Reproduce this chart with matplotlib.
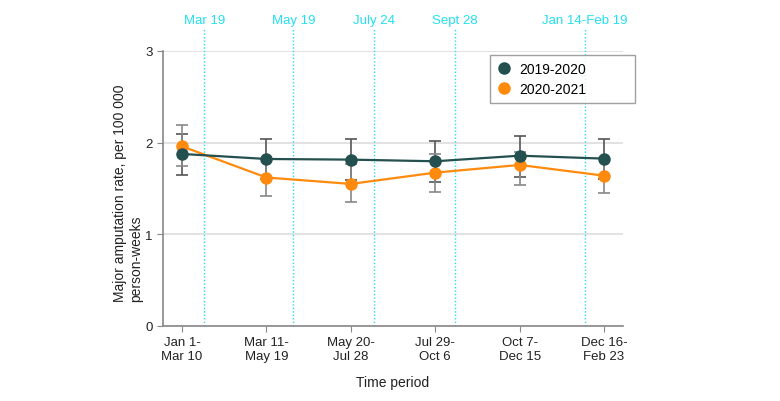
import matplotlib
matplotlib.use("Agg")
import matplotlib.pyplot as plt
import numpy as np

periods = ["Jan 1-\nMar 10", "Mar 11-\nMay 19", "May 20-\nJul 28", "Jul 29-\nOct 6", "Oct 7-\nDec 15", "Dec 16-\nFeb 23"]
rate_1920 = [1.877, 1.822, 1.815, 1.797, 1.858, 1.826]
lo_1920 = [1.645, 1.600, 1.594, 1.568, 1.622, 1.600]
hi_1920 = [2.100, 2.040, 2.036, 2.015, 2.076, 2.044]
rate_2021 = [1.960, 1.620, 1.550, 1.673, 1.757, 1.640]
lo_2021 = [1.742, 1.420, 1.357, 1.459, 1.539, 1.448]
hi_2021 = [2.190, 1.820, 1.768, 1.873, 1.900, 1.830]
event_labels = ["Mar 19", "May 19", "July 24", "Sept 28", "Jan 14-Feb 19"]
event_pos = [0.264, 1.319, 2.278, 3.235, 4.770]

plt.rcParams['font.family'] = ['Liberation Sans', 'DejaVu Sans']

fig = plt.figure(figsize=(7.8, 4.02), dpi=100)
ax = fig.add_axes([163/780, 1-327/402, (623-163)/780, (327-52)/402])

x = np.arange(len(periods))
dark = '#24504f'
orange = '#ff8a0d'

ax.set_xlim(-0.225, 5.225)
ax.set_ylim(0, 3)
ax.set_yticks([0, 1, 2, 3])
ax.yaxis.grid(True, color='#dddddd', lw=1.2)
ax.set_axisbelow(True)

for xp, lab in zip(event_pos, event_labels):
    ax.plot([xp, xp], [0, 3.24], ls=(0, (1, 1.5)), color='#22e0ee', lw=1, clip_on=False, zorder=1)
    ax.text(xp, 3.27, lab, color='#22e0ee', ha='center', va='bottom', fontsize=9.5)

ax.errorbar(x, rate_1920, yerr=[np.array(rate_1920)-np.array(lo_1920), np.array(hi_1920)-np.array(rate_1920)],
            fmt='none', ecolor='#555555', elinewidth=1.2, capsize=4, capthick=1.2, zorder=2)
ax.errorbar(x, rate_2021, yerr=[np.array(rate_2021)-np.array(lo_2021), np.array(hi_2021)-np.array(rate_2021)],
            fmt='none', ecolor='#888888', elinewidth=1.2, capsize=4, capthick=1.2, zorder=2)
ax.plot(x, rate_2021, '-o', color=orange, lw=1.6, ms=8, label='2020-2021', zorder=3)
ax.plot(x, rate_1920, '-o', color=dark, lw=1.6, ms=8, label='2019-2020', zorder=4)

h, l = ax.get_legend_handles_labels()
leg = ax.legend(h[::-1], l[::-1], loc='upper left', bbox_to_anchor=(0.711, 0.822, 0.315, 0.163), mode='expand',
                frameon=True, fancybox=False, borderaxespad=0,
                edgecolor='#888888', fontsize=10, handlelength=1.0, borderpad=0.5, labelspacing=0.4,
                handletextpad=0.6)
leg.get_frame().set_linewidth(1.0)
for lh in leg.legend_handles:
    lh.set_linestyle('none')

ax.set_xticks(x)
ax.set_xticklabels(periods, fontsize=9.5, color='#222222')
ax.tick_params(axis='y', labelsize=9.5, colors='#222222', length=4, color='#888888')
ax.tick_params(axis='x', length=4, color='#888888', pad=3)
for s in ['top', 'right']:
    ax.spines[s].set_visible(False)
for s in ['left', 'bottom']:
    ax.spines[s].set_color('#888888')
    ax.spines[s].set_linewidth(1.2)

ax.set_xlabel('Time period', fontsize=10, color='#222222', labelpad=10)
ax.set_ylabel('Major amputation rate, per 100 000\nperson-weeks', fontsize=10, color='#222222',
              ha='left', va='center')
ax.yaxis.set_label_coords(-0.075, 0.09)

fig.savefig('out.png', dpi=100)
